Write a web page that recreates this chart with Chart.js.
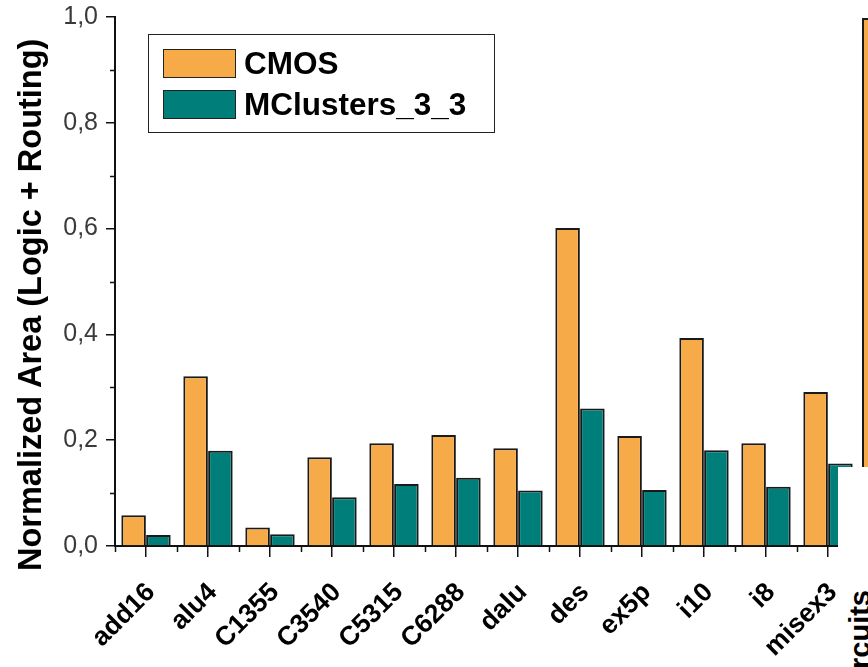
<!DOCTYPE html>
<html>
<head>
<meta charset="utf-8">
<script src="https://cdn.jsdelivr.net/npm/chart.js@4.4.1/dist/chart.umd.min.js"></script>
<style>
  html, body { margin: 0; padding: 0; background: #fff; }
  #wrap { position: relative; width: 868px; height: 667px; overflow: hidden; font-family: 'Liberation Sans', Arial, sans-serif; }
  #main { position: absolute; left: 0; top: 0; }
  #cover { position: absolute; left: 838px; top: 467px; width: 40px; height: 210px; background: #fff; }
  #inset { position: absolute; left: 844px; top: 18px; }
  #ytitle { position: absolute; left: 0; top: 0; white-space: nowrap; font-weight: bold; font-size: 32.5px; line-height: 1; color: #000;
            transform-origin: 0 0; }
  #insetLabel { position: absolute; left: 0; top: 0; white-space: nowrap; font-weight: bold; font-size: 29px; line-height: 1; color: #000;
            transform-origin: 0 0; transform: translate(846px, 590px) rotate(-90deg) translateX(-100%); }
  #legend { position: absolute; left: 148px; top: 34px; width: 345px; height: 97px; border: 1.5px solid #222; }
  .item { position: absolute; left: 14px; height: 30px; display: flex; align-items: center; }
  .sw { width: 71px; height: 27px; border: 1.5px solid #222; margin-right: 8px; }
  .lab { font-weight: bold; font-size: 31.5px; color: #000; }
</style>
</head>
<body>
<div id="wrap">
  <canvas id="main" width="868" height="667"></canvas>
  <div id="cover"></div>
  <canvas id="inset" width="60" height="449"></canvas>
  <div id="insetLabel"></div>
  <div id="ytitle"></div>
  <div id="legend"></div>
</div>
<script>
// data
var circuits = ['add16', 'alu4', 'C1355', 'C3540', 'C5315', 'C6288', 'dalu', 'des', 'ex5p', 'i10', 'i8', 'misex3'];
var cmos = [0.058, 0.321, 0.035, 0.168, 0.194, 0.210, 0.185, 0.601, 0.208, 0.393, 0.194, 0.291];
var mclusters = [0.021, 0.180, 0.022, 0.092, 0.117, 0.129, 0.105, 0.260, 0.106, 0.181, 0.112, 0.156];
var seriesNames = ['CMOS', 'MClusters_3_3'];
var seriesColors = ['#F6AB48', '#007F7A'];
var yTitle = 'Normalized Area (Logic + Routing)';
var minorYTicks = [0.1, 0.3, 0.5, 0.7, 0.9];
// cut-off neighbour chart on the right edge
var insetLabels = ['Circuits'];
var insetCmos = [1.0];

var FONT = "'Liberation Sans', Arial, sans-serif";

// minor ticks (short) on both axes
var minorTicks = {
    id: 'minorTicks',
    afterDraw: function (chart) {
        var ctx = chart.ctx;
        var x = chart.scales.x, y = chart.scales.y;
        var area = chart.chartArea;
        ctx.save();
        ctx.strokeStyle = '#111';
        ctx.lineWidth = 1.5;
        ctx.beginPath();
        minorYTicks.forEach(function (v) {
            var py = Math.round(y.getPixelForValue(v)) + 0.5;
            ctx.moveTo(area.left - 5, py);
            ctx.lineTo(area.left, py);
        });
        var step = (area.right - area.left) / circuits.length;
        for (var i = 0; i <= circuits.length; i++) {
            var px = Math.round(x.getPixelForValue(0) - step / 2 + i * step) + 0.5;
            ctx.moveTo(px, area.bottom);
            ctx.lineTo(px, area.bottom + 6);
        }
        ctx.stroke();
        ctx.restore();
    }
};

new Chart(document.getElementById('main'), {
    type: 'bar',
    data: {
        labels: circuits,
        datasets: [{
            label: seriesNames[0],
            data: cmos,
            backgroundColor: seriesColors[0],
            borderColor: '#1a1a1a',
            borderWidth: 2
        }, {
            label: seriesNames[1],
            data: mclusters,
            backgroundColor: seriesColors[1],
            borderColor: '#1a1a1a',
            borderWidth: 2
        }]
    },
    options: {
        responsive: false,
        animation: false,
        categoryPercentage: 0.8,
        barPercentage: 0.99,
        layout: { padding: { top: 17, right: 9, left: 0, bottom: 0 } },
        plugins: { legend: { display: false }, tooltip: { enabled: false } },
        scales: {
            x: {
                grid: { display: true, drawOnChartArea: false, offset: false, tickLength: 11, color: '#111', lineWidth: 1.5 },
                border: { display: true, color: '#111', width: 2 },
                ticks: {
                    autoSkip: false, minRotation: 45, maxRotation: 45, padding: 20, labelOffset: 5,
                    color: '#000', font: { family: FONT, size: 26.5, weight: 'bold' }
                },
                afterFit: function (s) { s.height = 121; s.paddingLeft = 0; s.paddingRight = 0; }
            },
            y: {
                min: 0, max: 1,
                grid: { display: true, drawOnChartArea: false, tickLength: 9, color: '#111', lineWidth: 1.5 },
                border: { display: true, color: '#111', width: 2 },
                ticks: {
                    stepSize: 0.2, padding: 8, color: '#3a3a3a',
                    font: { family: FONT, size: 25 },
                    callback: function (v) { return v.toFixed(1).replace('.', ','); }
                },
                afterFit: function (s) { s.width = 115; s.paddingTop = 0; s.paddingBottom = 0; }
            }
        }
    },
    plugins: [minorTicks]
});

new Chart(document.getElementById('inset'), {
    type: 'bar',
    data: {
        labels: insetLabels,
        datasets: [{ data: insetCmos, backgroundColor: seriesColors[0], borderColor: '#1a1a1a', borderWidth: 2 }]
    },
    options: {
        responsive: false,
        animation: false,
        categoryPercentage: 0.8,
        barPercentage: 0.5,
        layout: { padding: 0 },
        plugins: { legend: { display: false }, tooltip: { enabled: false } },
        scales: {
            x: { display: false },
            y: { display: false, min: 0, max: 1 }
        }
    }
});

document.getElementById('insetLabel').textContent = insetLabels[0];

// y axis title
var yt = document.getElementById('ytitle');
yt.textContent = yTitle;
var w = yt.offsetWidth;
yt.style.transform = 'translate(14px, ' + (305 + w / 2) + 'px) rotate(-90deg)';

// legend box
var lg = document.getElementById('legend');
seriesNames.forEach(function (name, i) {
    var it = document.createElement('div');
    it.className = 'item';
    it.style.top = (13 + i * 41) + 'px';
    var sw = document.createElement('div');
    sw.className = 'sw';
    sw.style.background = seriesColors[i];
    var lb = document.createElement('span');
    lb.className = 'lab';
    lb.textContent = name;
    it.appendChild(sw);
    it.appendChild(lb);
    lg.appendChild(it);
});
</script>
</body>
</html>
